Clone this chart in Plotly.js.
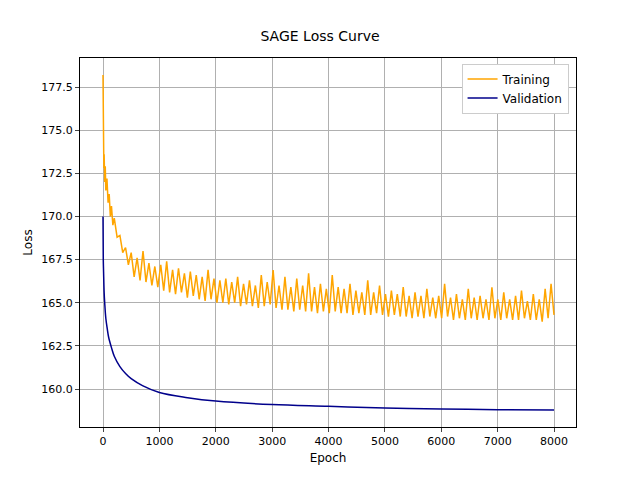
<!DOCTYPE html>
<html><head><script src="https://cdn.plot.ly/plotly-3.0.1.min.js"></script></head>
<body style="margin:0">
<div id="c" style="width:640px;height:480px"></div>
<script>
const trainEarlyEpochs=[0,5,10,15,20,30,40,50,70,90,110,130,150,175,200,250,300,350,400,450];
const trainEarly=[178.2,174.0,175.2,172.8,173.6,172.0,172.9,171.5,172.2,170.8,171.3,170.0,170.6,169.5,169.9,168.8,168.9,167.9,168.2,167.2];
const trainLate=[167.9,166.5,167.6,166.3,168.0,166.2,167.3,166.0,167.1,165.9,167.2,
165.7,167.4,165.6,166.9,165.5,167.0,165.6,166.7,165.3,166.8,165.4,166.6,165.2,166.5,165.1,166.9,165.2,166.4,165.0,
166.3,165.0,166.4,164.9,166.2,165.0,166.5,164.8,166.1,164.9,166.3,164.8,166.0,164.7,166.6,164.8,166.2,164.9,166.9,
164.7,166.0,164.6,166.5,164.6,165.9,164.5,166.4,164.6,166.0,164.5,166.7,164.5,165.9,164.4,166.1,164.5,165.8,164.4,
166.6,164.5,165.9,164.4,165.8,164.4,166.1,164.3,165.7,164.4,165.6,164.3,166.3,164.3,165.6,164.4,166.0,164.3,165.5,
164.2,165.7,164.3,165.5,164.2,165.9,164.2,165.4,164.1,165.6,164.2,165.4,164.1,165.8,164.2,165.3,164.1,165.4,164.1,
166.1,164.2,165.3,164.0,165.5,164.1,165.2,164.0,165.8,164.1,165.3,164.0,165.4,164.1,165.2,164.0,165.9,164.1,165.2,
164.0,165.6,164.1,165.2,164.0,165.4,164.0,165.7,164.1,165.1,164.0,165.5,164.0,165.2,163.9,165.8,164.1,166.1,164.3];
const valEpochs=[0,5,10,20,30,50,75,100,150,200,300,400,500,700,1000,1500,2000,3000,4000,5000,6000,7000,8000];
const valLoss=[170.0,167.5,166.8,165.6,165.0,164.1,163.5,163.0,162.4,161.9,161.3,160.9,160.6,160.2,159.8,159.5,159.3,159.1,159.0,158.9,158.85,158.8,158.78];
const lateX=trainLate.map((_,i)=>500+i*7500/(trainLate.length-1));
Plotly.newPlot('c',[
 {x:trainEarlyEpochs.concat(lateX),y:trainEarly.concat(trainLate),mode:'lines',name:'Training',line:{color:'orange',width:1.5}},
 {x:valEpochs,y:valLoss,mode:'lines',name:'Validation',line:{color:'darkblue',width:1.5,shape:'spline'}}
],{
 width:640,height:480,margin:{l:80,r:64,t:58,b:53},
 font:{family:'DejaVu Sans',size:12,color:'black'},
 title:{text:'SAGE Loss Curve',x:0.5,y:0.935,font:{size:14}},
 paper_bgcolor:'white',plot_bgcolor:'white',
 xaxis:{range:[-408,8390],tickvals:[0,1000,2000,3000,4000,5000,6000,7000,8000],showgrid:true,gridcolor:'#b0b0b0',zeroline:false,showline:true,mirror:true,linecolor:'black',ticks:'outside',ticklen:4,tickfont:{size:11},title:{text:'Epoch',standoff:6,font:{size:12}}},
 yaxis:{range:[157.8,179.18],tickvals:[160,162.5,165,167.5,170,172.5,175,177.5],ticktext:['160.0','162.5','165.0','167.5','170.0','172.5','175.0','177.5'],showgrid:true,gridcolor:'#b0b0b0',zeroline:false,showline:true,mirror:true,linecolor:'black',ticks:'outside',ticklen:4,tickfont:{size:11},title:{text:'Loss',standoff:6,font:{size:12}}},
 legend:{x:0.985,y:0.985,xanchor:'right',yanchor:'top',bordercolor:'#cccccc',borderwidth:1,bgcolor:'white'},
 showlegend:true
},{displayModeBar:false});
</script></body></html>
